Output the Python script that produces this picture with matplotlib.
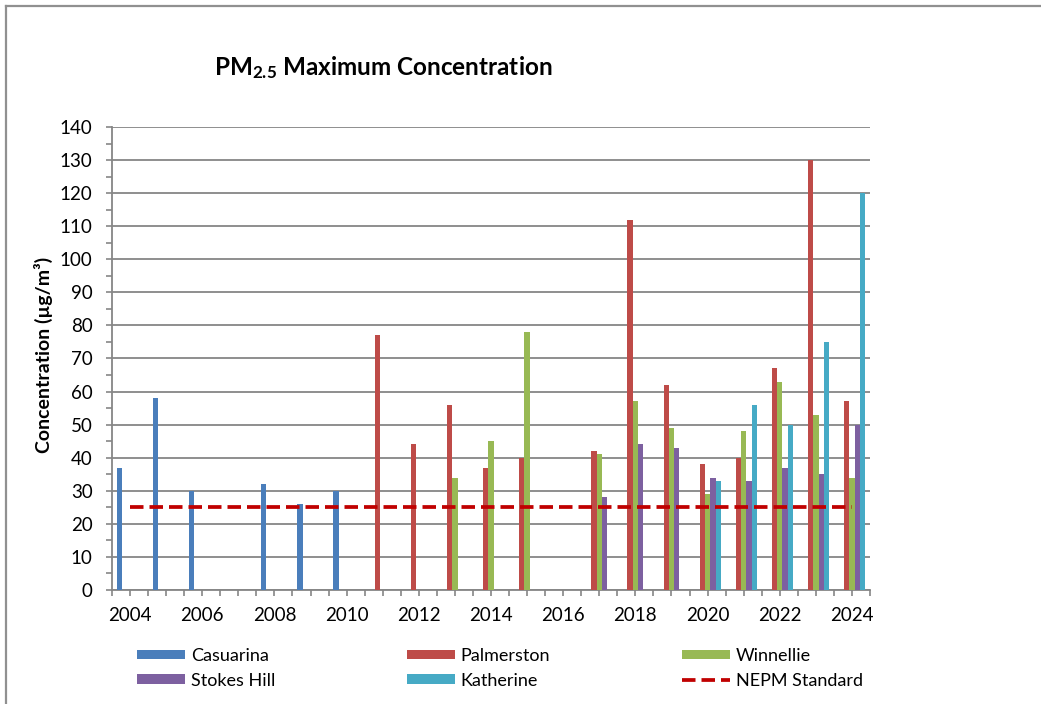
import numpy as np
import matplotlib
matplotlib.use("Agg")
import matplotlib.pyplot as plt
from matplotlib.lines import Line2D

plt.rcParams['font.family'] = ['Lato', 'DejaVu Sans']
plt.rcParams['mathtext.fontset'] = 'custom'
plt.rcParams['mathtext.rm'] = 'Lato'
plt.rcParams['mathtext.bf'] = 'Lato:bold'

years = list(range(2004, 2025))
casuarina   = [37, 58, 30, None, 32, 26, 30, None, None, None, None, None, None, None, None, None, None, None, None, None, None]
palmerston  = [None, None, None, None, None, None, None, 77, 44, 56, 37, 40, None, 42, 112, 62, 38, 40, 67, 130, 57]
winnellie   = [None, None, None, None, None, None, None, None, None, 34, 45, 78, None, 41, 57, 49, 29, 48, 63, 53, 34]
stokes_hill = [None, None, None, None, None, None, None, None, None, None, None, None, None, 28, 44, 43, 34, 33, 37, 35, 50]
katherine   = [None, None, None, None, None, None, None, None, None, None, None, None, None, None, None, None, 33, 56, 50, 75, 120]
nepm        = [25] * len(years)

series_names = ["Casuarina", "Palmerston", "Winnellie", "Stokes Hill", "Katherine"]
series_vals = [casuarina, palmerston, winnellie, stokes_hill, katherine]
colors = ["#4A7EBB", "#BE4B48", "#98B954", "#7D60A0", "#46AAC5"]

W, H = 1041, 704
fig = plt.figure(figsize=(W / 100, H / 100), dpi=100)
ax = fig.add_axes([112 / W, 1 - 590 / H, (870 - 112) / W, (590 - 127) / H])

x = np.arange(len(years))
bw = 0.147
handles = {}
for i, (name, vals, c) in enumerate(zip(series_names, series_vals, colors)):
    xs = [xi + (i - 2) * bw for xi, v in zip(x, vals) if v is not None]
    hs = [v for v in vals if v is not None]
    b = ax.bar(xs, hs, width=bw, color=c, zorder=3, label=name)
    handles[name] = b

ln, = ax.plot(x, nepm, color="#C00000", lw=2.7, dashes=(3.6, 1.6), zorder=4,
              label="NEPM Standard")
handles["NEPM Standard"] = ln

ax.set_xlim(-0.5, len(years) - 0.5)
ax.set_ylim(0, 140)
ax.set_yticks(np.arange(0, 141, 10))
ax.set_yticks(np.arange(5, 141, 10), minor=True)
ax.set_xticks(x[::2])
ax.set_xticklabels([str(y) for y in years[::2]])
minor_x = [v for v in np.arange(-0.5, len(years) - 0.49, 0.5) if not (abs(v - round(v)) < 1e-9 and int(round(v)) % 2 == 0)]
ax.set_xticks(minor_x, minor=True)

grid_c = "#868686"
ax.yaxis.grid(True, color=grid_c, lw=1.3, zorder=0)
ax.set_axisbelow(True)
for s in ["top", "right"]:
    ax.spines[s].set_visible(False)
for s in ["left", "bottom"]:
    ax.spines[s].set_color(grid_c)
    ax.spines[s].set_linewidth(1.3)
ax.tick_params(axis="both", which="both", direction="out", length=4, width=1.2,
               color=grid_c, labelsize=13.5, labelcolor="black")
ax.tick_params(axis="y", pad=10)
ax.tick_params(axis="x", pad=8)

ax.set_ylabel("Concentration (µg/m³)", fontsize=14, fontweight="bold")
ax.yaxis.set_label_coords((53 - 112) / 758, (590 - 355) / 463)

fig.text(383 / W, 1 - 68 / H, r"$\mathbf{PM_{2.5}}$ Maximum Concentration",
         ha="center", va="center", fontsize=17.5, fontweight="bold")

order = ["Casuarina", "Stokes Hill", "Palmerston", "Katherine", "Winnellie", "NEPM Standard"]
fig.legend([handles[n] for n in order], order, loc="upper left",
           bbox_to_anchor=(137 / W, 1 - 648 / H), ncol=3, frameon=False,
           fontsize=13, handlelength=2.65, handleheight=0.45, handletextpad=0.33,
           columnspacing=7.3, labelspacing=0.48, borderpad=0, borderaxespad=0)

# outer frame (left and top edges)
fig.add_artist(Line2D([6 / W, 6 / W], [0, 1 - 6 / H], color="#909090", lw=1.6))
fig.add_artist(Line2D([6 / W, 1], [1 - 6 / H, 1 - 6 / H], color="#909090", lw=1.6))

fig.savefig("out.png", dpi=100)
